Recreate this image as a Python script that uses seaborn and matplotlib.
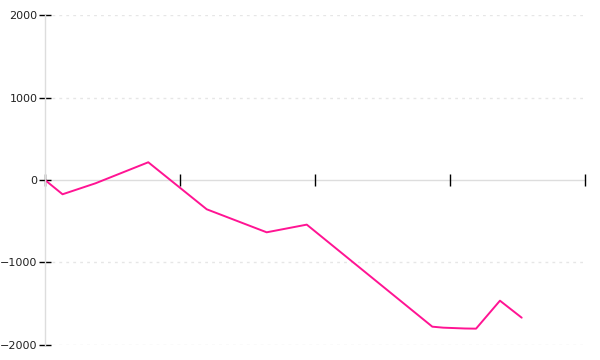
import matplotlib
matplotlib.use("Agg")
import matplotlib.pyplot as plt
import seaborn as sns
import pandas as pd

x_vals = [0, 0.13, 0.374, 0.765, 1.198, 1.642, 1.939, 2.869, 2.95, 3.111, 3.193, 3.37, 3.531]
y_vals = [0, -173, -40, 215, -355, -634, -541, -1778, -1790, -1800, -1802, -1463, -1669]
y_ticks = [-2000, -1000, 0, 1000, 2000]
x_ticks = [0, 1, 2, 3, 4]

df = pd.DataFrame({"x": x_vals, "y": y_vals})

sns.set_style("white")
plt.rcParams["font.family"] = ["DejaVu Sans"]

fig = plt.figure(figsize=(6, 3.6), dpi=100)
ax = fig.add_axes([0.075, 0.0417, 0.9, 0.9166])

for g in [-2000, -1000, 1000, 2000]:
    ax.axhline(g, color="#e6e6e6", lw=1.0, ls=(0, (2, 3)), zorder=0)

sns.lineplot(data=df, x="x", y="y", ax=ax, color="#ff1493", lw=1.4, sort=False)

ax.set_xlim(0, 4)
ax.set_ylim(-2000, 2000)
ax.set_xticks(x_ticks)
ax.set_xticklabels([])
ax.set_yticks(y_ticks)
ax.set_yticklabels([str(t).replace("-", "\u2212") for t in y_ticks])
ax.set_xlabel("")
ax.set_ylabel("")

for s in ["top", "right"]:
    ax.spines[s].set_visible(False)
ax.spines["left"].set_color("#dddddd")
ax.spines["left"].set_linewidth(1.0)
ax.spines["bottom"].set_position(("data", 0))
ax.spines["bottom"].set_color("#dddddd")
ax.spines["bottom"].set_linewidth(1.0)
ax.spines["bottom"].set_zorder(0.5)

ax.tick_params(axis="x", direction="inout", length=9, width=1, color="black", bottom=True)
ax.tick_params(axis="y", direction="inout", length=9, width=1, color="black", left=True,
               labelsize=8, pad=1, labelcolor="#222222")

fig.savefig("out.png", dpi=100)
